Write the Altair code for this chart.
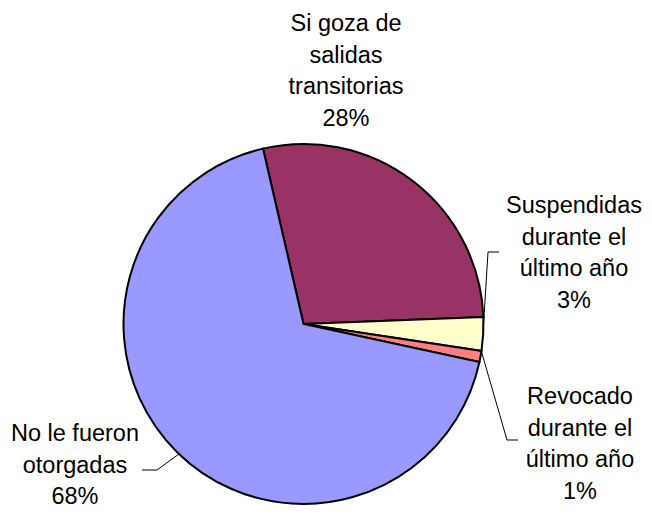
import math
import altair as alt
import pandas as pd

# Data
categories = ["Si goza de salidas transitorias", "Suspendidas durante el último año",
              "Revocado durante el último año", "No le fueron otorgadas"]
values = [28, 3, 1, 68]
colors = ["#993366", "#FFFFCC", "#FF8080", "#9999FF"]
label_lines = [
    ["Si goza de", "salidas", "transitorias"],
    ["Suspendidas", "durante el", "último año"],
    ["Revocado", "durante el", "último año"],
    ["No le fueron", "otorgadas"],
]

# Layout (chart coords = page coords - 8px margin)
W, H = 636, 501
CX, CY, R = 295.5, 316, 180
START = math.radians(-13)
label_pos = [(338, 23), (566, 205), (572, 396), (67, 433)]
leaders = [
    [(491, 244), (480, 244), (475, 325)],
    [(473, 342), (499, 432), (510, 432)],
    [(134, 462), (149, 462), (171, 446)],
]

total = sum(values)
pie_df = pd.DataFrame({"cat": categories, "value": values, "order": list(range(len(values)))})

texts = []
for i, lines in enumerate(label_lines):
    pct = f"{round(values[i] / total * 100)}%"
    texts.append({"x": label_pos[i][0], "y": label_pos[i][1], "label": "\n".join(lines + [pct])})
text_df = pd.DataFrame(texts)

seg_rows = []
for k, pts in enumerate(leaders):
    for j, (x, y) in enumerate(pts):
        seg_rows.append({"line": k, "idx": j, "x": x, "y": y})
seg_df = pd.DataFrame(seg_rows)

pie = alt.Chart(pie_df).mark_arc(
    outerRadius=R, stroke="black", strokeWidth=2, strokeJoin="miter"
).encode(
    theta=alt.Theta("value:Q", stack=True,
                    scale=alt.Scale(domain=[0, total], range=[START, START + 2 * math.pi])),
    color=alt.Color("cat:N", scale=alt.Scale(domain=categories, range=colors), legend=None),
    order=alt.Order("order:Q"),
    x=alt.value(CX),
    y=alt.value(CY),
)

lead = alt.Chart(seg_df).mark_line(color="black", strokeWidth=1).encode(
    x=alt.X("x:Q", scale=None),
    y=alt.Y("y:Q", scale=None),
    detail="line:N",
    order="idx:Q",
)

txt = alt.Chart(text_df).mark_text(
    font="Liberation Sans", fontSize=23.5, lineHeight=31.5, lineBreak="\n",
    align="center", baseline="alphabetic", color="black"
).encode(
    x=alt.X("x:Q", scale=None),
    y=alt.Y("y:Q", scale=None),
    text="label:N",
)

chart = alt.layer(pie, lead, txt).properties(
    width=W, height=H, autosize=alt.AutoSizeParams(type="none"), padding=0
).configure_view(stroke=None)

chart.save("out.html", embed_options={"renderer": "svg", "actions": False})
